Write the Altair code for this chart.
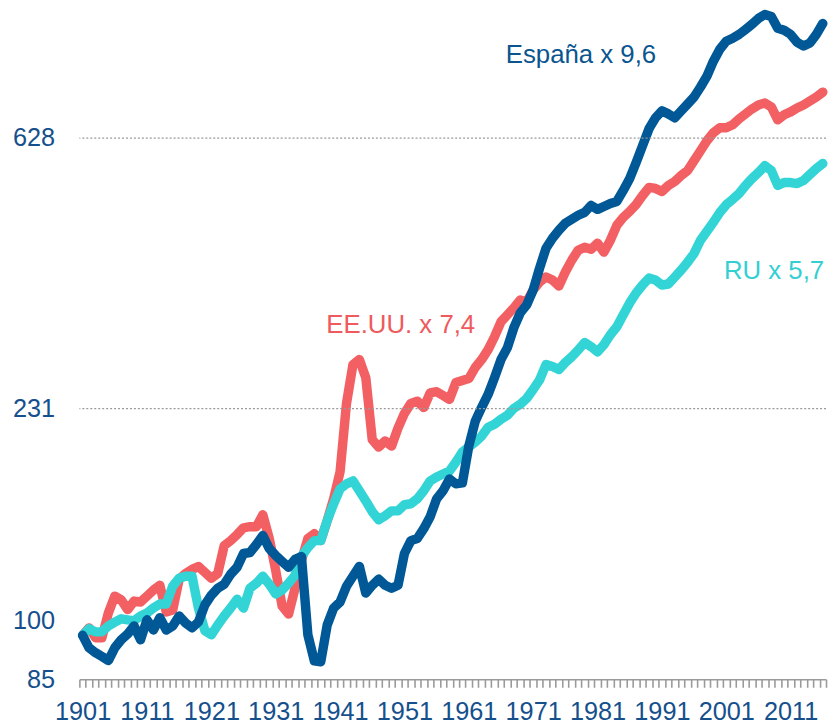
import math
import altair as alt
import pandas as pd

years = list(range(1901, 2017))

espana = [100, 95.5, 93.8, 92.5, 91.1, 95.5, 98.4, 100.5, 103.5, 98.4,
          105.9, 102.0, 106.7, 102.0, 103.5, 107.4, 104.7, 102.8, 105.1, 111.9,
          116.0, 119.0, 120.8, 125.3, 128.6, 135.3, 135.8, 139.9, 144.6, 137.8,
          134.3, 131.4, 128.6, 132.4, 133.8, 100.2, 91.0, 90.7, 103.9, 110.6,
          113.1, 119.9, 124.4, 129.0, 116.9, 120.3, 123.0, 120.3, 119.0, 120.3,
          135.3, 141.9, 143.0, 148.3, 155.0, 165.6, 170.6, 178.2, 175.0, 175.6,
          201.2, 220.6, 232.2, 243.5, 259.2, 277.0, 289.5, 311.6, 329.2, 339.0,
          358.2, 388.4, 418.0, 433.7, 446.6, 458.3, 465.1, 472.0, 477.2, 489.6,
          482.5, 487.8, 493.2, 496.9, 517.4, 540.7, 573.5, 610.5, 650.0, 676.6,
          694.3, 686.6, 676.6, 694.3, 712.3, 730.9, 758.3, 789.6, 834.3, 872.0,
          897.9, 908.0, 921.0, 938.0, 956.0, 977.0, 991.0, 984.0, 942.0, 935.0,
          921.0, 895.0, 882.0, 892.0, 921.0, 959.0]

eeuu = [100, 102.8, 99.1, 99.1, 108.6, 115.6, 114.0, 110.0, 113.5, 113.1,
        115.6, 118.2, 120.3, 109.0, 109.8, 123.0, 125.7, 127.6, 129.0, 126.2,
        123.5, 125.7, 139.3, 141.9, 145.1, 148.8, 149.4, 149.4, 156.1, 143.0,
        127.1, 111.4, 108.2, 119.0, 131.9, 143.0, 145.6, 141.9, 152.8, 165.6,
        183.0, 235.6, 271.9, 277.0, 259.0, 206.0, 200.5, 205.0, 201.2, 215.0,
        227.0, 235.6, 237.5, 232.0, 245.0, 246.0, 242.6, 239.1, 254.5, 256.4,
        258.2, 269.0, 277.0, 287.3, 301.4, 318.5, 326.8, 335.3, 345.3, 342.8,
        358.2, 368.9, 375.7, 371.6, 363.6, 382.7, 400.0, 415.0, 419.6, 416.5,
        425.8, 412.0, 430.5, 454.9, 468.5, 479.0, 491.4, 508.0, 523.2, 521.3,
        515.5, 527.0, 534.8, 546.7, 556.9, 577.7, 599.3, 621.8, 640.4, 652.2,
        652.2, 659.4, 674.1, 686.6, 699.4, 709.8, 715.0, 704.5, 671.6, 684.2,
        691.7, 701.9, 709.8, 720.3, 731.0, 744.0]

ru = [100, 102.5, 101.3, 101.3, 103.5, 105.0, 106.3, 105.9, 105.5, 107.4,
      108.6, 110.6, 112.3, 112.3, 119.9, 123.5, 124.4, 124.4, 110.6, 101.7,
      100.2, 103.9, 107.4, 110.6, 114.3, 110.6, 119.0, 121.2, 124.4, 120.8,
      116.5, 118.2, 121.2, 124.8, 133.8, 138.3, 141.9, 141.9, 152.8, 162.6,
      171.8, 175.0, 176.9, 170.6, 164.3, 157.9, 153.3, 155.6, 158.4, 158.4,
      162.0, 162.6, 165.6, 170.6, 176.9, 179.5, 181.5, 183.5, 189.7, 196.9,
      200.5, 204.2, 208.8, 215.7, 218.1, 222.2, 225.5, 231.3, 234.8, 240.0,
      248.0, 257.0, 272.0, 270.0, 267.0, 274.0, 280.0, 287.0, 295.0, 290.5,
      285.0, 292.7, 303.6, 312.7, 326.8, 341.5, 354.3, 364.9, 374.3, 371.6,
      364.9, 366.2, 375.7, 385.6, 397.0, 410.0, 430.5, 445.0, 460.0, 477.0,
      491.0, 500.7, 511.7, 527.0, 540.7, 552.8, 567.0, 557.0, 527.0, 532.8,
      532.8, 530.8, 536.8, 548.7, 561.0, 571.5]

y_ticks = [85, 100, 231, 628]
grid_values = [231, 628]
tick_bounds = [y - 0.5 for y in range(1901, 2018)]
series_names = ["EE.UU.", "RU", "España"]
series_colors = ["#f26063", "#33d4d6", "#005896"]
label_texts = ["España x 9,6", "EE.UU. x 7,4", "RU x 5,7"]
label_colors = ["#0a5590", "#ee5a5e", "#33cfd2"]

df = pd.DataFrame({
    "year": years * 3,
    "value": eeuu + ru + espana,
    "serie": ["EE.UU."] * len(years) + ["RU"] * len(years) + ["España"] * len(years),
})

FONT = "Liberation Sans, Arial, sans-serif"
TEXT_BLUE = "#15508d"
W, H = 753, 674

x_scale = alt.Scale(domain=[1900.5, 2016.5], nice=False, zero=False)
y_scale = alt.Scale(type="log", base=math.e, domain=[85, 1004], nice=False, zero=False)

x_axis = alt.Axis(
    values=tick_bounds,
    labelExpr="(round(datum.value + 0.5) - 1901) % 10 == 0 ? '' + round(datum.value + 0.5) : ''",
    labelOffset=3.25,
    ticks=True, tickSize=8, tickColor="#9a9a9a", tickWidth=1.6,
    domain=True, domainColor="#9a9a9a", domainWidth=1.6,
    labelFontSize=25.5, labelColor=TEXT_BLUE, labelFont=FONT,
    labelPadding=13, grid=False, title=None,
    labelOverlap=False, labelFlush=False, labelBound=False,
)
y_axis = alt.Axis(
    values=y_ticks, format="d",
    labelFontSize=25.5, labelColor=TEXT_BLUE, labelFont=FONT,
    labelPadding=25, ticks=False, domain=False, grid=False, title=None,
    labelOverlap=False, labelFlush=False, labelBound=False,
    labelOffset={"condition": {"test": "datum.value == 100", "value": -15}, "value": 0},
)

x_enc = alt.X("year:Q", scale=x_scale, axis=x_axis)
y_enc = alt.Y("value:Q", scale=y_scale, axis=y_axis)

grid = alt.Chart(pd.DataFrame({"value": grid_values})).mark_rule(
    color="#9a9a9a", strokeDash=[2, 2], strokeWidth=1.3
).encode(y=y_enc)

lines = []
for name, col in zip(series_names, series_colors):
    lines.append(
        alt.Chart(df).transform_filter(alt.datum.serie == name).mark_line(
            color=col, strokeWidth=9.5, strokeCap="round", strokeJoin="round"
        ).encode(x=x_enc, y=y_enc)
    )

label_pos = [(430, 52), (249, 325), (650, 270)]
texts = []
for t, c, (px, py) in zip(label_texts, label_colors, label_pos):
    texts.append(
        alt.Chart(pd.DataFrame({"t": [t]})).mark_text(
            align="left", baseline="alphabetic", fontSize=26, font=FONT, color=c
        ).encode(x=alt.value(px), y=alt.value(py), text="t:N")
    )

chart = alt.layer(*lines, grid, *texts).properties(
    width=W, height=H,
    autosize=alt.AutoSizeParams(type="none"),
    padding={"left": 72, "top": 0, "right": 2, "bottom": 43},
).configure_view(stroke=None)

chart.save("out.html", embed_options={"renderer": "svg", "actions": False})
